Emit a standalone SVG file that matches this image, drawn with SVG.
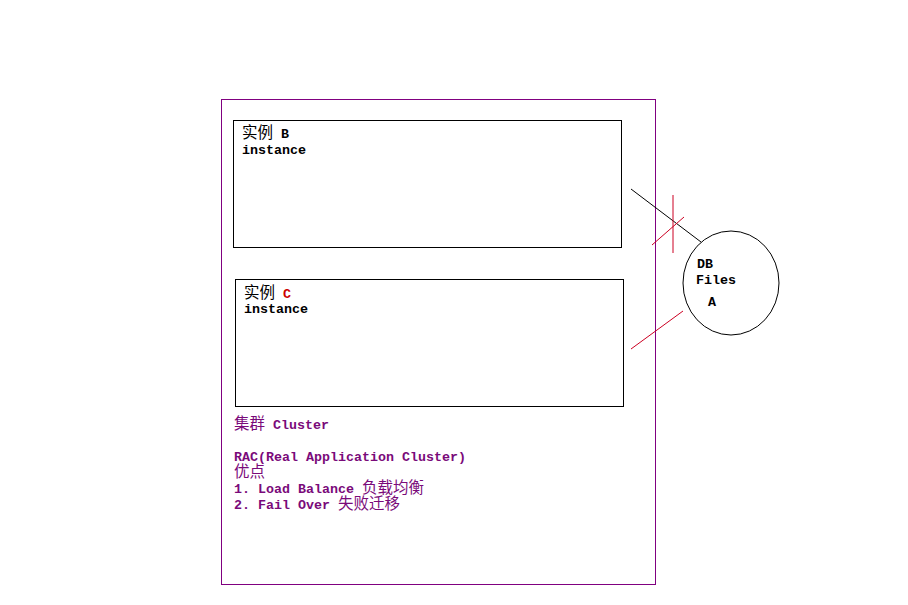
<svg xmlns="http://www.w3.org/2000/svg" width="908" height="605" viewBox="0 0 908 605">
<style>
.m{font-family:"Liberation Mono","DejaVu Sans Mono",monospace;font-weight:bold;font-size:13.33px}
.c{font-family:"Noto Sans CJK SC","Liberation Sans",sans-serif;font-size:15.5px}
.p{fill:#7a0a7a}
.box{fill:none;stroke:#000;stroke-width:1}
</style>
<rect width="908" height="605" fill="#fff"/>
<g id="cluster">
<rect x="221.5" y="99.5" width="434" height="485" fill="none" stroke="#800080"/>
<text x="234" y="429"><tspan class="c p">集群</tspan><tspan class="m p"> Cluster</tspan></text>
<text class="m p" x="234" y="461">RAC(Real Application Cluster)</text>
<text class="c p" x="234" y="477">优点</text>
<text x="234" y="493"><tspan class="m p">1. Load Balance </tspan><tspan class="c p">负载均衡</tspan></text>
<text x="234" y="509"><tspan class="m p">2. Fail Over </tspan><tspan class="c p">失败迁移</tspan></text>
</g>
<g id="instanceB">
<rect class="box" x="233.5" y="120.5" width="388" height="127"/>
<text x="242" y="138"><tspan class="c">实例</tspan><tspan class="m"> B</tspan></text>
<text class="m" x="242" y="154">instance</text>
</g>
<g id="instanceC">
<rect class="box" x="235.5" y="279.5" width="388" height="127"/>
<text x="244" y="298"><tspan class="c">实例</tspan><tspan class="m" fill="#cc0000"> C</tspan></text>
<text class="m" x="244" y="313">instance</text>
</g>
<g id="dbfiles">
<ellipse cx="731" cy="283" rx="48" ry="52" fill="none" stroke="#000"/>
<text class="m" x="697" y="268">DB</text>
<text class="m" x="696" y="284">Files</text>
<text class="m" x="708" y="306">A</text>
</g>
<g id="connectors" fill="none">
<line x1="631" y1="189" x2="701" y2="242" stroke="#000"/>
<line x1="673" y1="195" x2="673" y2="253" stroke="#cc0022"/>
<line x1="652" y1="245" x2="684" y2="217" stroke="#cc0022"/>
<line x1="631" y1="349" x2="683" y2="311" stroke="#cc0022"/>
</g>
</svg>
